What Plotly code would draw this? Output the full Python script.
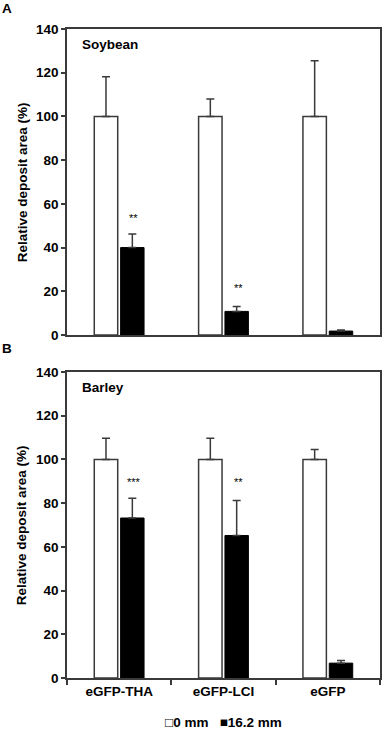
import plotly.graph_objects as go

# Data
categories = ['eGFP-THA', 'eGFP-LCI', 'eGFP']

soy_0mm = [100, 100, 100]
soy_0mm_err = [18.2, 8.0, 25.5]
soy_16mm = [40, 10.8, 1.8]
soy_16mm_err = [6.2, 2.2, 0.5]
soy_stars = ['**', '**', '']
soy_star_y = [53.5, 21.5, None]

barley_0mm = [100, 100, 100]
barley_0mm_err = [9.7, 9.7, 4.6]
barley_16mm = [73.2, 65.2, 6.8]
barley_16mm_err = [9.0, 16.0, 1.2]
barley_stars = ['***', '**', '']
barley_star_y = [89.5, 89.5, None]

y_ticks = [0, 20, 40, 60, 80, 100, 120, 140]

FONT = 'Liberation Sans, Arial, sans-serif'
LINE = '#3a3a3a'

fig = go.Figure()


def add_panel(fig, vals0, err0, vals16, err16, xaxis, yaxis):
    fig.add_trace(go.Bar(
        x=categories, y=vals0, name='0 mm',
        marker=dict(color='white', line=dict(color=LINE, width=1.5)),
        error_y=dict(type='data', symmetric=False, array=err0,
                     arrayminus=[0] * len(err0), color=LINE, thickness=1.5, width=4),
        xaxis=xaxis, yaxis=yaxis, showlegend=False
    ))
    fig.add_trace(go.Bar(
        x=categories, y=vals16, name='16.2 mm',
        marker=dict(color='black', line=dict(color='black', width=1)),
        error_y=dict(type='data', symmetric=False, array=err16,
                     arrayminus=[0] * len(err16), color=LINE, thickness=1.5, width=4),
        xaxis=xaxis, yaxis=yaxis, showlegend=False
    ))


add_panel(fig, soy_0mm, soy_0mm_err, soy_16mm, soy_16mm_err, 'x', 'y')
add_panel(fig, barley_0mm, barley_0mm_err, barley_16mm, barley_16mm_err, 'x2', 'y2')

annotations = []
# significance stars above the 16.2 mm bars
for stars, ys, xr, yr in [(soy_stars, soy_star_y, 'x', 'y'),
                          (barley_stars, barley_star_y, 'x2', 'y2')]:
    for cat, s, yv in zip(categories, stars, ys):
        if s:
            annotations.append(dict(x=cat, y=yv, xref=xr, yref=yr, text=s,
                                    showarrow=False, xshift=14.5,
                                    font=dict(family=FONT, size=11, color='black')))

# panel names
annotations += [
    dict(x=0.04, y=140, xref='x domain', yref='y', text='<b>Soybean</b>',
         showarrow=False, xanchor='left', yanchor='top', yshift=-6,
         font=dict(family=FONT, size=13.5, color='black')),
    dict(x=0.04, y=140, xref='x2 domain', yref='y2', text='<b>Barley</b>',
         showarrow=False, xanchor='left', yanchor='top', yshift=-6,
         font=dict(family=FONT, size=13.5, color='black')),
]

# y-axis titles
for yd in [(0.5285, 1.0), (0.0, 0.4715)]:
    annotations.append(dict(x=-0.143, y=(yd[0] + yd[1]) / 2, xref='paper', yref='paper',
                            text='<b>Relative deposit area (%)</b>', textangle=-90,
                            showarrow=False, xanchor='center', yanchor='middle',
                            font=dict(family=FONT, size=13.5, color='black')))

# panel letters
annotations.append(dict(x=-0.192, y=1.0316, xref='paper', yref='paper', text='<b>A</b>',
                        showarrow=False, xanchor='center', yanchor='middle',
                        font=dict(family=FONT, size=13.5, color='black')))
annotations.append(dict(x=-0.192, y=0.507, xref='paper', yref='paper', text='<b>B</b>',
                        showarrow=False, xanchor='center', yanchor='middle',
                        font=dict(family=FONT, size=13.5, color='black')))

# legend, drawn as text to keep the symbols tight against the labels
annotations.append(dict(x=0.5, y=-0.0678, xref='paper', yref='paper',
                        text='<b>\u25a10 mm\u00a0\u00a0\u00a0\u25a016.2 mm</b>',
                        showarrow=False, xanchor='center', yanchor='middle',
                        font=dict(family=FONT, size=13.5, color='black')))

fig.update_layout(
    width=382, height=730,
    margin=dict(l=67, r=2, t=29, b=52, autoexpand=False),
    paper_bgcolor='white', plot_bgcolor='white',
    barmode='group', bargap=0.495, bargroupgap=0.11,
    font=dict(family=FONT, size=13.5, color='black'),
    showlegend=False,
    xaxis=dict(domain=[0, 1], anchor='y', showticklabels=False, ticks='',
               showline=True, mirror=True, linecolor=LINE, linewidth=1.5,
               showgrid=False, automargin=False),
    yaxis=dict(domain=[0.5285, 1], anchor='x', range=[0, 140], tickvals=y_ticks,
               ticktext=['<b>%d</b>' % v for v in y_ticks],
               ticks='outside', ticklen=4, tickwidth=1.5, tickcolor=LINE,
               showline=True, mirror=True, linecolor=LINE, linewidth=1.5,
               showgrid=False, zeroline=False, automargin=False,
               tickfont=dict(family=FONT, size=13.5, color='black')),
    xaxis2=dict(domain=[0, 1], anchor='y2', ticks='outside', tickson='boundaries',
                ticklen=5, tickwidth=1.5, tickcolor=LINE,
                showline=True, mirror=True, linecolor=LINE, linewidth=1.5,
                showgrid=False, tickprefix='<b>', ticksuffix='</b>', automargin=False,
                tickfont=dict(family=FONT, size=13.5, color='black')),
    yaxis2=dict(domain=[0, 0.4715], anchor='x2', range=[0, 140], tickvals=y_ticks,
                ticktext=['<b>%d</b>' % v for v in y_ticks],
                ticks='outside', ticklen=4, tickwidth=1.5, tickcolor=LINE,
                showline=True, mirror=True, linecolor=LINE, linewidth=1.5,
                showgrid=False, zeroline=False, automargin=False,
                tickfont=dict(family=FONT, size=13.5, color='black')),
    annotations=annotations,
)

# drop the browser's default 8px body margin so the figure fills the window
fig.write_html("out.html", config={'displayModeBar': False},
               post_script="document.body.style.margin='0';document.body.style.overflow='hidden';")
